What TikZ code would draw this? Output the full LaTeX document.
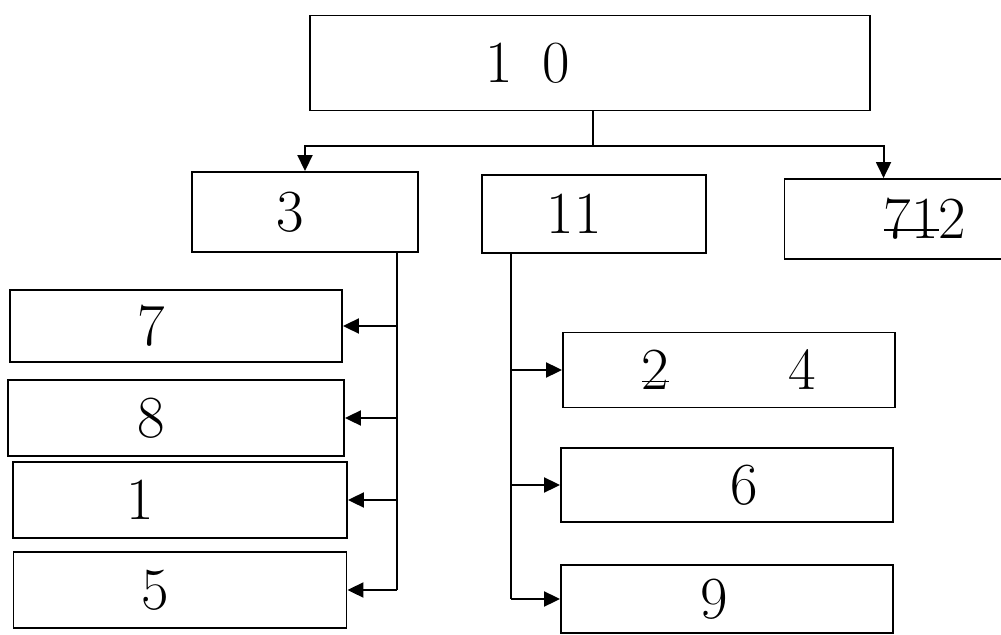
\documentclass[tikz,border=0pt]{standalone}
\usepackage{tikz}
\usetikzlibrary{positioning, arrows.meta}

\newsavebox{\strkbox}
\newcommand{\strk}[1]{\sbox{\strkbox}{#1}\rlap{\usebox{\strkbox}}\raisebox{0.3ex}{\rule{\wd\strkbox}{1pt}}}

\begin{document}
\begin{tikzpicture}[x=0.02cm, y=-0.02cm,
    line width=1.1pt,
    cbox/.style={draw, line width=1.1pt, inner sep=0pt, font=\fontsize{34}{38}\selectfont},
    tip/.style={-{Triangle[length=0.32cm, width=0.3cm]}}
]
\clip (0,0) rectangle (1001,635);
\fill[white] (0,0) rectangle (1001,635);

% top level
\node[cbox, minimum width=11.2cm, minimum height=1.9cm] (box10) at (590,63) {1\enspace 0\hspace*{2.5cm}};

% second level
\node[cbox, minimum width=4.52cm, minimum height=1.6cm] (box3) at (305,212) {3\hspace*{0.6cm}};
\node[cbox, minimum width=4.48cm, minimum height=1.56cm] (box11) at (594,214) {11\hspace*{0.8cm}};
\node[cbox, minimum width=4.62cm, minimum height=1.6cm] (box12) at (900,219) {\hspace*{1cm}\strk{71}2};

% children of 3
\node[cbox, minimum width=6.64cm, minimum height=1.44cm] (box7) at (176,326) {7\hspace*{1cm}};
\node[cbox, minimum width=6.72cm, minimum height=1.52cm] (box8) at (176,418) {8\hspace*{1cm}};
\node[cbox, minimum width=6.68cm, minimum height=1.52cm] (box1) at (180,500) {1\hspace*{1.6cm}};
\node[cbox, minimum width=6.66cm, minimum height=1.52cm] (box5) at (180,590) {5\hspace*{1cm}};

% children of 11
\node[cbox, minimum width=6.64cm, minimum height=1.5cm] (box4) at (729,370) {\strk{2}\qquad 4};
\node[cbox, minimum width=6.64cm, minimum height=1.48cm] (box6) at (727,485) {\hspace*{0.7cm}6};
\node[cbox, minimum width=6.64cm, minimum height=1.36cm] (box9) at (727,599) {9\hspace*{0.5cm}};

% junctions
\coordinate (j10) at (593,146);
\coordinate (t3) at (397,590);
\coordinate (t11) at (511,599);

\draw (box10.south -| j10) -- (j10);
\draw[tip] (j10) -| (box3.north);
\draw[tip] (j10) -| ([xshift=2cm]box12.north west);

\draw (box3.south -| t3) -- (t3);
\draw[tip] (box7.east -| t3) -- (box7.east);
\draw[tip] (box8.east -| t3) -- (box8.east);
\draw[tip] (box1.east -| t3) -- (box1.east);
\draw[tip] (box5.east -| t3) -- (box5.east);

\draw (box11.south -| t11) -- (t11);
\draw[tip] (box4.west -| t11) -- (box4.west);
\draw[tip] (box6.west -| t11) -- (box6.west);
\draw[tip] (box9.west -| t11) -- (box9.west);
\end{tikzpicture}
\end{document}
